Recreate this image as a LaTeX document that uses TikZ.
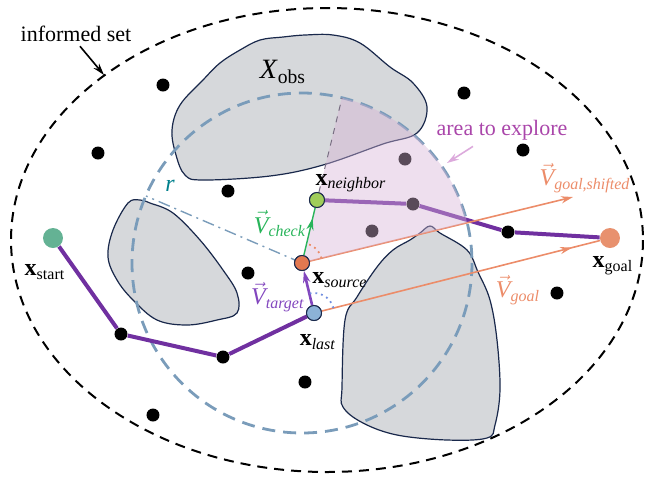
\documentclass[tikz,border=0pt]{standalone}
\usepackage{fontspec}
\setmainfont{Liberation Serif}
\usetikzlibrary{arrows.meta,calc,decorations.markings}
\definecolor{obsfill}{RGB}{214,216,219}
\definecolor{obsline}{RGB}{25,40,75}
\definecolor{circblue}{RGB}{122,156,186}
\definecolor{planpurple}{RGB}{112,48,160}
\definecolor{vecorange}{RGB}{236,140,105}
\definecolor{goalfill}{RGB}{232,145,110}
\definecolor{srcfill}{RGB}{226,120,80}
\definecolor{startfill}{RGB}{100,178,148}
\definecolor{nbrfill}{RGB}{160,205,90}
\definecolor{lastfill}{RGB}{140,178,215}
\definecolor{checkgreen}{RGB}{40,180,90}
\definecolor{targetpurple}{RGB}{130,70,190}
\definecolor{rteal}{RGB}{0,128,140}
\definecolor{areatext}{RGB}{170,70,170}
\definecolor{areaarrow}{RGB}{220,170,220}
\definecolor{areapink}{RGB}{214,179,214}
\definecolor{raygray}{RGB}{120,110,130}

\begin{document}
\begin{tikzpicture}[
    x=0.5pt, y=-0.5pt,
    >={Stealth[length=6pt, width=3.6pt]},
    obstacle/.style={fill=obsfill, draw=obsline, line width=0.6pt},
    wpt/.style={circle, fill=black, inner sep=0pt, minimum size=6.5pt},
    planline/.style={draw=planpurple, line width=2pt},
    vecline/.style={draw=vecorange, line width=0.8pt},
    keynode/.style={circle, draw=obsline, line width=0.5pt, inner sep=0pt, minimum size=7.5pt},
    endnode/.style={circle, inner sep=0pt, minimum size=10pt},
    dotarc/.style={dotted, line width=0.9pt},
    lbl/.style={font=\fontsize{12}{14}\selectfont, inner sep=0pt}
]

\useasboundingbox (0,0) rectangle (645,479);

% obstacles
\draw[obstacle] plot[smooth cycle, tension=0.6] coordinates {
    (172,130) (180,105) (203,80) (220,63) (240,50) (260,40) (283,37) (305,35)
    (333,35) (360,43) (390,67) (413,83) (427,107) (417,133) (383,144)
    (323,165) (270,176) (203,180) (185,175) (176,155)};
\draw[obstacle] plot[smooth cycle, tension=0.6] coordinates {
    (140,200) (128,203) (113,230) (108,257) (117,280) (133,300) (157,320)
    (187,325) (217,320) (237,313) (237,293) (223,270) (200,240) (173,213) (150,203)};
\draw[obstacle] plot[smooth cycle, tension=0.6] coordinates {
    (430,226) (440,233) (467,250) (478,272) (490,300) (497,340) (500,390)
    (495,425) (487,438) (447,440) (397,435) (363,423) (343,407) (342,387)
    (345,320) (357,297) (377,267) (393,250) (410,240) (420,233)};

% nodes of the tree
\node[wpt] (P1) at (121,334) {};
\node[wpt] (P2) at (223,357) {};
\node[wpt] (P3) at (413,204) {};
\node[wpt] (P4) at (508,232) {};
\node[wpt] at (98,153) {};
\node[wpt] at (163,85) {};
\node[wpt] at (228,191) {};
\node[wpt] at (248,273) {};
\node[wpt] at (464,93) {};
\node[wpt] at (523,150) {};
\node[wpt] at (557,293) {};
\node[wpt] at (305,382) {};
\node[wpt] at (153,415) {};
\node[wpt] at (405,159) {};
\node[wpt] at (372,231) {};

\coordinate (SRCPT) at (302,263);
\coordinate (ARCTOP) at (342,98);
\coordinate (RTIP) at (146,196);
\coordinate (SHIFTTIP) at (573,197);
\coordinate (ISETPT) at (104,75);
\coordinate (AREAPT) at (447,163);

% search radius
\draw[circblue, line width=1.4pt, dash pattern=on 6.5pt off 4pt] (SRCPT) circle[radius=170];
\draw[circblue, line width=0.7pt, dash pattern=on 6pt off 2.5pt on 1pt off 2.5pt] (SRCPT) -- (RTIP);

% informed set
\draw[line width=1pt, dash pattern=on 5pt off 3.5pt] (327,240) ellipse[x radius=316, y radius=232];

% key states
\node[endnode, fill=startfill] (START) at (53,238) {};
\node[endnode, fill=goalfill] (GOAL) at (610,238) {};
\node[keynode, fill=lastfill] (LAST) at (314,313) {};
\node[keynode, fill=srcfill] (SRC) at (302,263) {};
\node[keynode, fill=nbrfill] (NBR) at (317,200) {};

% path
\draw[planline] (START) -- (P1) -- (P2) -- (LAST);
\draw[planline] (NBR) -- (P3) -- (P4) -- (GOAL);

% goal vectors
\draw[vecline, ->] (SRC) -- (SHIFTTIP);
\draw[vecline, postaction={decorate},
    decoration={markings, mark=at position 0.9 with {\arrow{>}}}] (LAST) -- (GOAL);

% area to explore
\fill[areapink, fill opacity=0.42] (SRCPT) -- ++(-13.7:170)
    arc[start angle=-13.7, end angle=-76.5, radius=170] -- cycle;
\draw[raygray, line width=0.5pt, dashed] (NBR) -- (ARCTOP);

% check and target vectors
\draw[checkgreen, line width=0.7pt, postaction={decorate},
    decoration={markings, mark=at position 0.78 with {\arrow{>}}}] (SRC) -- (NBR);
\draw[targetpurple, line width=1.3pt, ->] (LAST) -- (SRC);
\draw[dotarc, vecorange] ([shift={(-13.7:20)}]SRC.center) arc[start angle=-13.7, end angle=-76.5, radius=20];
\draw[dotarc, lastfill!80!blue] ([shift={(-14.2:20)}]LAST.center) arc[start angle=-14.2, end angle=-103.5, radius=20];

% redraw key states on top
\node[keynode, fill=srcfill] at (SRC) {};
\node[keynode, fill=nbrfill] at (NBR) {};
\node[keynode, fill=lastfill] at (LAST) {};

% labels
\node[lbl, font=\fontsize{11}{13}\selectfont] (ISET) at (76,34) {informed set};
\draw[->, line width=0.8pt] ([xshift=2pt, yshift=-2pt]ISET.south) -- (ISETPT);
\node[lbl, text=areatext, font=\fontsize{11}{13}\selectfont] (AREA) at (502,130) {area to explore};
\draw[areaarrow, line width=0.8pt, ->] ($(AREA.south)+(-29,6)$) -- (AREAPT);

\node[lbl, font=\fontsize{14}{16}\selectfont] (XOBS) at (283,72) {\textit{X}\textsubscript{obs}};
\node[lbl, text=rteal] (RLBL) at (170,186) {\textit{r}};
\node[lbl] (LSTART) at (45,272) {\textbf{x}\textsubscript{start}};
\node[lbl] (LGOAL) at (613,266) {\textbf{x}\textsubscript{goal}};
\node[lbl] (LSRC) at (340,280) {\textbf{x}\textsubscript{\textit{source}}};
\node[lbl] (LLAST) at (318,342) {\textbf{x}\textsubscript{\textit{last}}};
\node[lbl] (LNBR) at (351,183) {\textbf{x}\textsubscript{\textit{neighbor}}};
\node[lbl, text=checkgreen] (LCHECK) at (280,224) {$\vec{\textit{V}}$\textsubscript{\textit{check}}};
\node[lbl, text=targetpurple] (LTARGET) at (278,297) {$\vec{\textit{V}}$\textsubscript{\textit{target}}};
\node[lbl, text=vecorange] (LSHIFT) at (585,178) {$\vec{\textit{V}}$\textsubscript{\textit{goal,shifted}}};
\node[lbl, text=vecorange] (LGOALV) at (518,290) {$\vec{\textit{V}}$\textsubscript{\textit{goal}}};

\end{tikzpicture}
\end{document}
